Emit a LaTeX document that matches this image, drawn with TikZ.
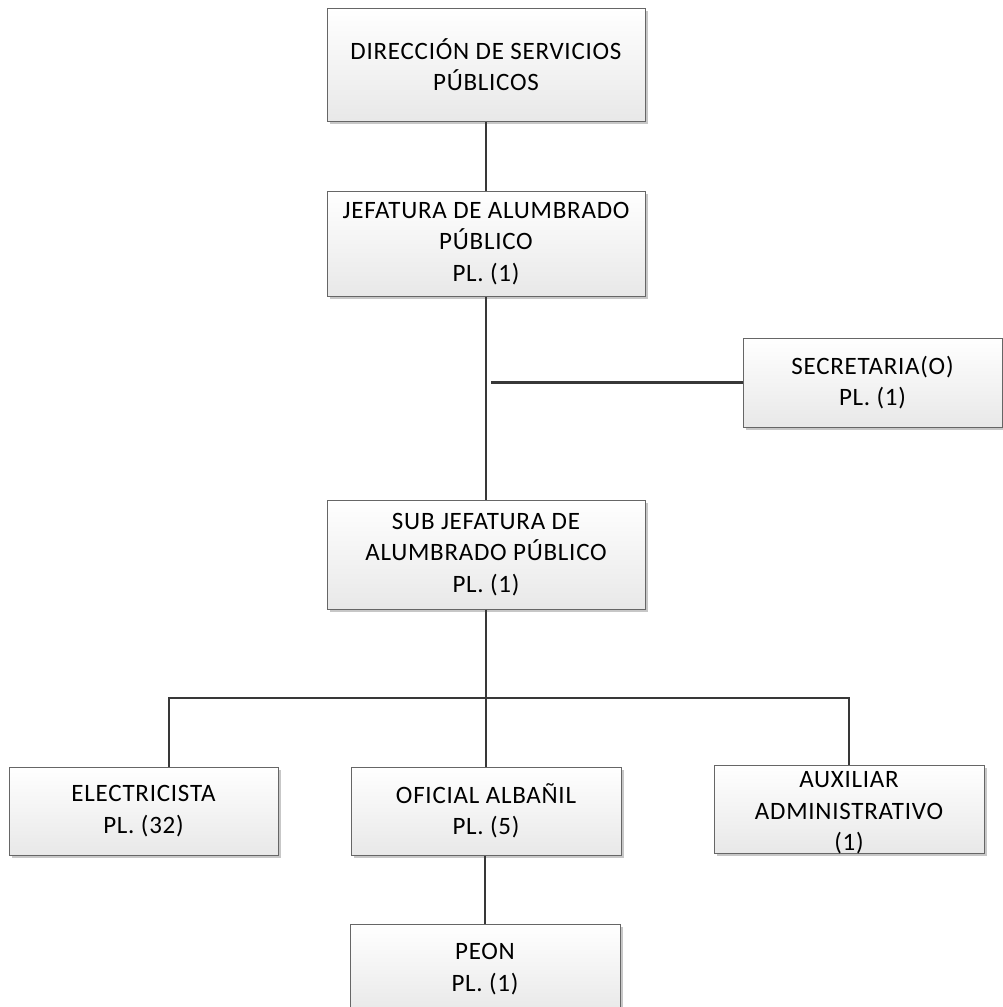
\documentclass[tikz,border=0pt]{standalone}
\usepackage{fontspec}
\setmainfont[LetterSpace=3]{Carlito}
\usepackage{tikz}
\usetikzlibrary{positioning, shadows}

\begin{document}
\begin{tikzpicture}[
  x=1pt, y=-1pt,
  font=\fontsize{25}{31.5}\selectfont,
  box/.style={draw=black!60, line width=1pt, top color=white, bottom color=black!9,
    minimum width=318pt, align=center, inner sep=2pt,
    drop shadow={shadow xshift=3pt, shadow yshift=-3pt, fill=black!22, opacity=1}},
  lowbox/.style={box, minimum width=270pt, minimum height=88pt},
  con/.style={draw=black!78, line width=2.7pt}
]
\useasboundingbox (0,0) rectangle (1002,1007);

\node[box, minimum height=113pt] (dir) at (486,64.5) {DIRECCIÓN DE SERVICIOS\\PÚBLICOS};
\node[box, minimum height=105pt, below=69pt of dir] (jef) {JEFATURA DE ALUMBRADO\\PÚBLICO\\PL. (1)};
\node[box, minimum height=109pt, below=203pt of jef] (sub) {SUB JEFATURA DE\\ALUMBRADO PÚBLICO\\PL. (1)};
\node[box, minimum width=259pt, minimum height=89pt] (sec) at (872.5,382.5) {SECRETARIA(O)\\PL. (1)};

\node[lowbox] (ofi) at (486,811) {OFICIAL ALBAÑIL\\PL. (5)};
\node[lowbox, minimum width=269pt, left=72pt of ofi] (elec) {ELECTRICISTA\\PL. (32)};
\node[lowbox, right=92pt of ofi, yshift=2pt] (aux) {};
\node[align=center, inner sep=0pt] (auxt) at ([yshift=-4pt]aux.center) {AUXILIAR\\ADMINISTRATIVO\\(1)};
\node[lowbox, minimum height=90pt, below=68pt of ofi, xshift=-1pt] (peon) {PEON\\PL. (1)};

% conectores
\coordinate (secj) at (491,382.5);
\coordinate (elecj) at (169,698);
\coordinate (auxj) at (aux.north |- elecj);
\draw[con] (dir) -- (jef);
\draw[con] (jef) -- (sub);
\draw[con] (secj) -- (sec);
\draw[con] (sub) -- (ofi);
\draw[con] (elecj |- elec.north) -- (elecj) -- (auxj) -- (aux.north);
\draw[con] (ofi.south -| peon.north) -- (peon);
\end{tikzpicture}
\end{document}
